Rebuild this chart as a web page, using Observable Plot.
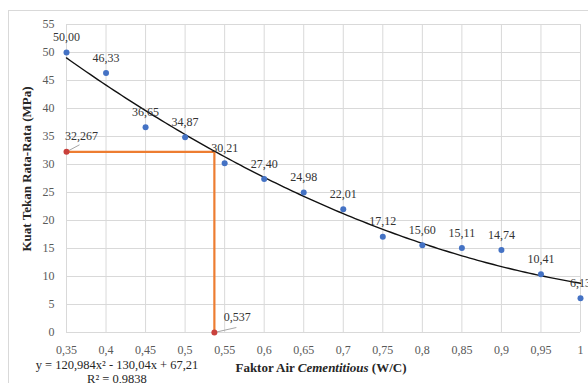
<!DOCTYPE html>
<html>
<head>
<meta charset="utf-8">
<script src="https://cdn.jsdelivr.net/npm/d3@7"></script>
<script src="https://cdn.jsdelivr.net/npm/@observablehq/plot@0.6"></script>
<style>
  body { margin: 0; background: #fff; overflow: hidden; }
  #wrap { position: relative; width: 588px; height: 383px; overflow: hidden; }
  #frame { position: absolute; left: 8px; top: 10px; right: -2px; bottom: -2px;
           border-left: 1px solid #d9d9d9; border-top: 1px solid #d9d9d9; pointer-events: none; }
  #wrap svg { position: absolute; left: 0; top: 0; }
  #wrap svg text { font-family: 'Liberation Serif', 'Times New Roman', serif !important; }
</style>
</head>
<body>
<div id="wrap"><div id="frame"></div></div>
<script>
// ---- data ----
const wc = [0.35, 0.4, 0.45, 0.5, 0.55, 0.6, 0.65, 0.7, 0.75, 0.8, 0.85, 0.9, 0.95, 1];
const strength = [50.00, 46.33, 36.65, 34.87, 30.21, 27.40, 24.98, 22.01, 17.12, 15.60, 15.11, 14.74, 10.41, 6.13];
const strengthLabels = ["50,00", "46,33", "36,65", "34,87", "30,21", "27,40", "24,98", "22,01", "17,12", "15,60", "15,11", "14,74", "10,41", "6,13"];
const xTicks = [0.35, 0.4, 0.45, 0.5, 0.55, 0.6, 0.65, 0.7, 0.75, 0.8, 0.85, 0.9, 0.95, 1];
const yTicks = [0, 5, 10, 15, 20, 25, 30, 35, 40, 45, 50, 55];
const optX = [0.35, 0.537];
const optY = [32.267, 0];
const optLabels = ["32,267", "0,537"];
const equationText = "y = 120,984x\u00B2 - 130,04x + 67,21";
const r2Text = "R\u00B2 = 0,9838";

// ---- quadratic least-squares trendline (as Excel's polynomial trendline) ----
function quadFit(xs, ys) {
  const n = xs.length;
  let s = [0, 0, 0, 0, 0], t = [0, 0, 0];
  for (let i = 0; i < n; i++) {
    const x = xs[i], y = ys[i];
    for (let k = 0; k <= 4; k++) s[k] += Math.pow(x, k);
    for (let k = 0; k <= 2; k++) t[k] += Math.pow(x, k) * y;
  }
  const A = [[s[0], s[1], s[2], t[0]], [s[1], s[2], s[3], t[1]], [s[2], s[3], s[4], t[2]]];
  for (let i = 0; i < 3; i++) {
    for (let j = i + 1; j < 3; j++) {
      const f = A[j][i] / A[i][i];
      for (let k = i; k < 4; k++) A[j][k] -= f * A[i][k];
    }
  }
  const c = [0, 0, 0];
  for (let i = 2; i >= 0; i--) {
    let v = A[i][3];
    for (let k = i + 1; k < 3; k++) v -= A[i][k] * c[k];
    c[i] = v / A[i][i];
  }
  return c;
}
const coef = quadFit(wc, strength);
const trend = d3.range(0, 131).map(i => {
  const x = 0.35 + i * 0.005;
  return {x, y: coef[0] + coef[1] * x + coef[2] * x * x};
});

const points = wc.map((x, i) => ({x, y: strength[i], label: strengthLabels[i]}));
const opt = optX.map((x, i) => ({x, y: optY[i], label: optLabels[i]}));
const guide = [{x: optX[0], y: optY[0]}, {x: optX[1], y: optY[0]}, {x: optX[1], y: optY[1]}];

// pixel-size helpers for leader lines (plot frame 514px x 308px)
const kx = 0.65 / 514, ky = 55 / 308;
const leaderDx = [13, 22], leaderDy = [7, 5];
const leaders = opt.map((d, i) => ({x1: d.x, y1: d.y, x2: d.x + leaderDx[i] * kx, y2: d.y + leaderDy[i] * ky}));

const fmt = d => String(d).replace(".", ",");
const serif = "'Liberation Serif', 'Times New Roman', serif";

const chart = Plot.plot({
  width: 588,
  height: 383,
  marginLeft: 66,
  marginRight: 8,
  marginTop: 24,
  marginBottom: 51,
  style: {fontFamily: serif, fontSize: "12px", color: "#595959", background: "transparent", overflow: "visible"},
  x: {domain: [0.35, 1], ticks: xTicks, tickFormat: fmt, tickSize: 0, tickPadding: 13, label: null},
  y: {domain: [0, 55], ticks: yTicks, tickFormat: d => String(d), tickSize: 0, tickPadding: 12, label: null},
  marks: [
    Plot.ruleX(xTicks, {stroke: "#d9d9d9", strokeWidth: 1}),
    Plot.ruleY(yTicks, {stroke: "#d9d9d9", strokeWidth: 1}),
    Plot.line(guide, {x: "x", y: "y", stroke: "#ED7D31", strokeWidth: 2.2}),
    Plot.line(trend, {x: "x", y: "y", stroke: "#111", strokeWidth: 1.4}),
    Plot.link(leaders, {x1: "x1", y1: "y1", x2: "x2", y2: "y2", stroke: "#a6a6a6", strokeWidth: 1}),
    Plot.dot(points, {x: "x", y: "y", r: 3, fill: "#4472C4", stroke: "none"}),
    Plot.dot(opt, {x: "x", y: "y", r: 3, fill: "#C9413C", stroke: "none"}),
    Plot.text(points, {x: "x", y: "y", text: "label", dy: -15, fill: "#333", fontSize: 12, fontFamily: serif}),
    Plot.text([opt[0]], {x: "x", y: "y", text: "label", dx: 15, dy: -16, fill: "#333", fontSize: 12, fontFamily: serif}),
    Plot.text([opt[1]], {x: "x", y: "y", text: "label", dx: 23, dy: -15, fill: "#333", fontSize: 12, fontFamily: serif})
  ]
});

const svg = d3.select(chart);
// y axis title
svg.append("text")
  .attr("transform", "translate(31,169) rotate(-90)")
  .attr("text-anchor", "middle")
  .attr("font-family", serif).attr("font-weight", "bold").attr("font-size", 13)
  .attr("fill", "#262626")
  .text("Kuat Tekan Rata-Rata (MPa)");
// x axis title
const xt = svg.append("text")
  .attr("x", 321).attr("y", 371.5)
  .attr("text-anchor", "middle")
  .attr("font-family", serif).attr("font-weight", "bold").attr("font-size", 13)
  .attr("fill", "#262626");
xt.append("tspan").text("Faktor Air ");
xt.append("tspan").attr("font-style", "italic").text("Cementitious");
xt.append("tspan").text(" (W/C)");
// equation & R2
svg.append("text")
  .attr("x", 117).attr("y", 369)
  .attr("text-anchor", "middle")
  .attr("font-family", serif).attr("font-size", 12.5).attr("fill", "#262626")
  .text(equationText);
svg.append("text")
  .attr("x", 117).attr("y", 383)
  .attr("text-anchor", "middle")
  .attr("font-family", serif).attr("font-size", 12.5).attr("fill", "#262626")
  .text(r2Text);

document.getElementById("wrap").appendChild(chart);
</script>
</body>
</html>
